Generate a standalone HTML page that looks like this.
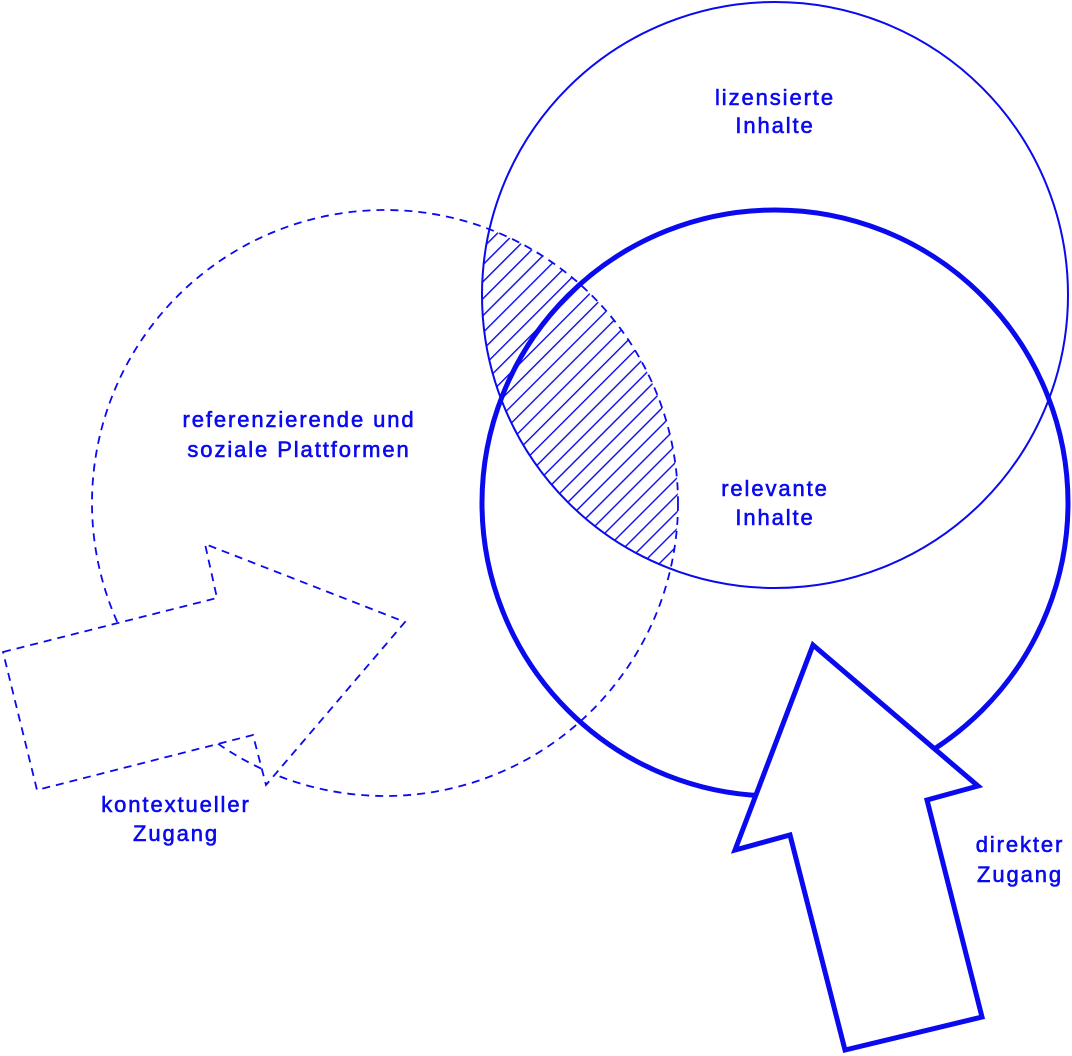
<!DOCTYPE html>
<html><head><meta charset="utf-8"><style>
html,body{margin:0;padding:0;background:#fff}
svg{display:block}
text{font-family:"Liberation Sans",sans-serif;font-size:22px;fill:#0a0aee;stroke:#0a0aee;stroke-width:0.6;letter-spacing:1.9px}
</style></head><body>
<svg width="1072" height="1056" viewBox="0 0 1072 1056" xmlns="http://www.w3.org/2000/svg">
<defs>
<pattern id="h" patternUnits="userSpaceOnUse" width="12" height="12" patternTransform="rotate(45)">
<line x1="0" y1="0" x2="0" y2="12" stroke="#0a0aee" stroke-width="2.8"/>
</pattern>
<clipPath id="c1"><circle cx="775" cy="295" r="293"/></clipPath>
</defs>
<g fill="none" stroke="#0a0aee">
<circle cx="385" cy="503" r="293" fill="url(#h)" clip-path="url(#c1)" stroke="none"/>
<circle cx="385" cy="503" r="293" stroke-width="1.8" stroke-dasharray="8,6"/>
<circle cx="775" cy="295" r="293" stroke-width="2"/>
<circle cx="775" cy="503" r="293" stroke-width="5"/>
<polygon points="3,652 217,598 205,544 405,622 266,785 253,735 37,790" fill="#fff" stroke-width="1.8" stroke-dasharray="8,6"/>
<polygon points="813,645 978,786 927,800 982,1017 845,1050 790,835 735,850" fill="#fff" stroke-width="5"/>
</g>
<text x="775" y="105" text-anchor="middle">lizensierte</text>
<text x="775" y="133" text-anchor="middle">Inhalte</text>
<text x="299" y="427" text-anchor="middle">referenzierende und</text>
<text x="299" y="457" text-anchor="middle">soziale Plattformen</text>
<text x="775" y="496" text-anchor="middle">relevante</text>
<text x="775" y="525" text-anchor="middle">Inhalte</text>
<text x="176" y="812" text-anchor="middle">kontextueller</text>
<text x="176" y="841" text-anchor="middle">Zugang</text>
<text x="1020" y="852" text-anchor="middle">direkter</text>
<text x="1020" y="882" text-anchor="middle">Zugang</text>
</svg>
</body></html>
